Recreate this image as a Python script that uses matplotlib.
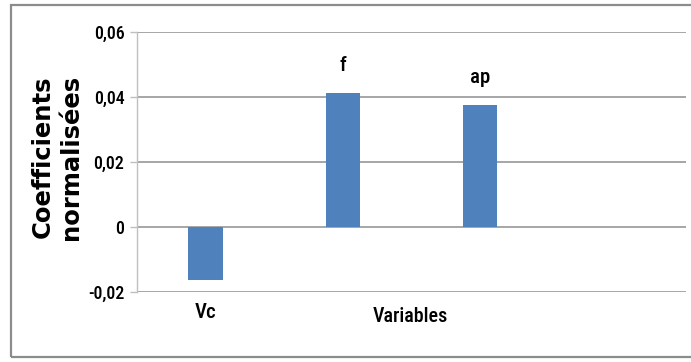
import matplotlib
matplotlib.use("Agg")
from matplotlib import pyplot as plt
from matplotlib.patches import Rectangle

variables = ["Vc", "f", "ap"]
coefficients = [-0.0163, 0.0412, 0.0375]
n_slots = 4  # the chart keeps one empty slot on the right
yticks = [-0.02, 0, 0.02, 0.04, 0.06]
ytick_labels = ["-0,02", "0", "0,02", "0,04", "0,06"]

narrow = dict(fontfamily=["Roboto Condensed", "DejaVu Sans"], fontstretch="condensed",
              fontweight="medium")

bar_color = "#4f81bd"
grid_color = "#a6a6a6"

fig = plt.figure(figsize=(6.91, 3.62), dpi=100)
W, H = 691, 362
ax = fig.add_axes([137 / W, 1 - 292 / H, (686 - 137) / W, (292 - 32) / H])

# outer frame of the chart area
fig.patches.append(Rectangle((11 / W, 1 - 357 / H), 1.2, (357 - 5) / H,
                             transform=fig.transFigure, fill=False,
                             edgecolor="#8c8c8c", linewidth=1.6))

x = list(range(len(variables)))
bars = ax.bar(x, coefficients, width=0.25, color=bar_color, zorder=3)

ax.set_xlim(-0.5, n_slots - 0.5)
ax.set_ylim(-0.02, 0.06)
ax.set_yticks(yticks)
ax.set_yticklabels(ytick_labels, fontsize=13, **narrow)
ax.set_xticks([])
for y in yticks:
    ax.axhline(y, color=grid_color, linewidth=1.4, zorder=1)

for s in ["top", "right", "bottom"]:
    ax.spines[s].set_visible(False)
ax.spines["left"].set_color("#bfbfbf")
ax.spines["left"].set_linewidth(1.0)
ax.tick_params(axis="y", length=5, width=1.0, color="#bfbfbf", pad=4)

# variable names placed next to the end of each bar
for xi, name, v in zip(x, variables, coefficients):
    off = -33 if v < 0 else 28
    ax.annotate(name, (xi, v), xytext=(0, off * 0.72), textcoords="offset points",
                ha="center", va="center", fontsize=15, **narrow)

fig.text(410 / W, 1 - 317 / H, "Variables", ha="center", va="center",
         fontsize=14.5, **narrow)
fig.text(57 / W, 1 - 157 / H, "Coefficients\nnormalisées", ha="center", va="center",
         rotation=90, fontsize=17.5, fontweight="bold", linespacing=1.2,
         fontfamily="DejaVu Sans")

fig.savefig("out.png", dpi=100)
